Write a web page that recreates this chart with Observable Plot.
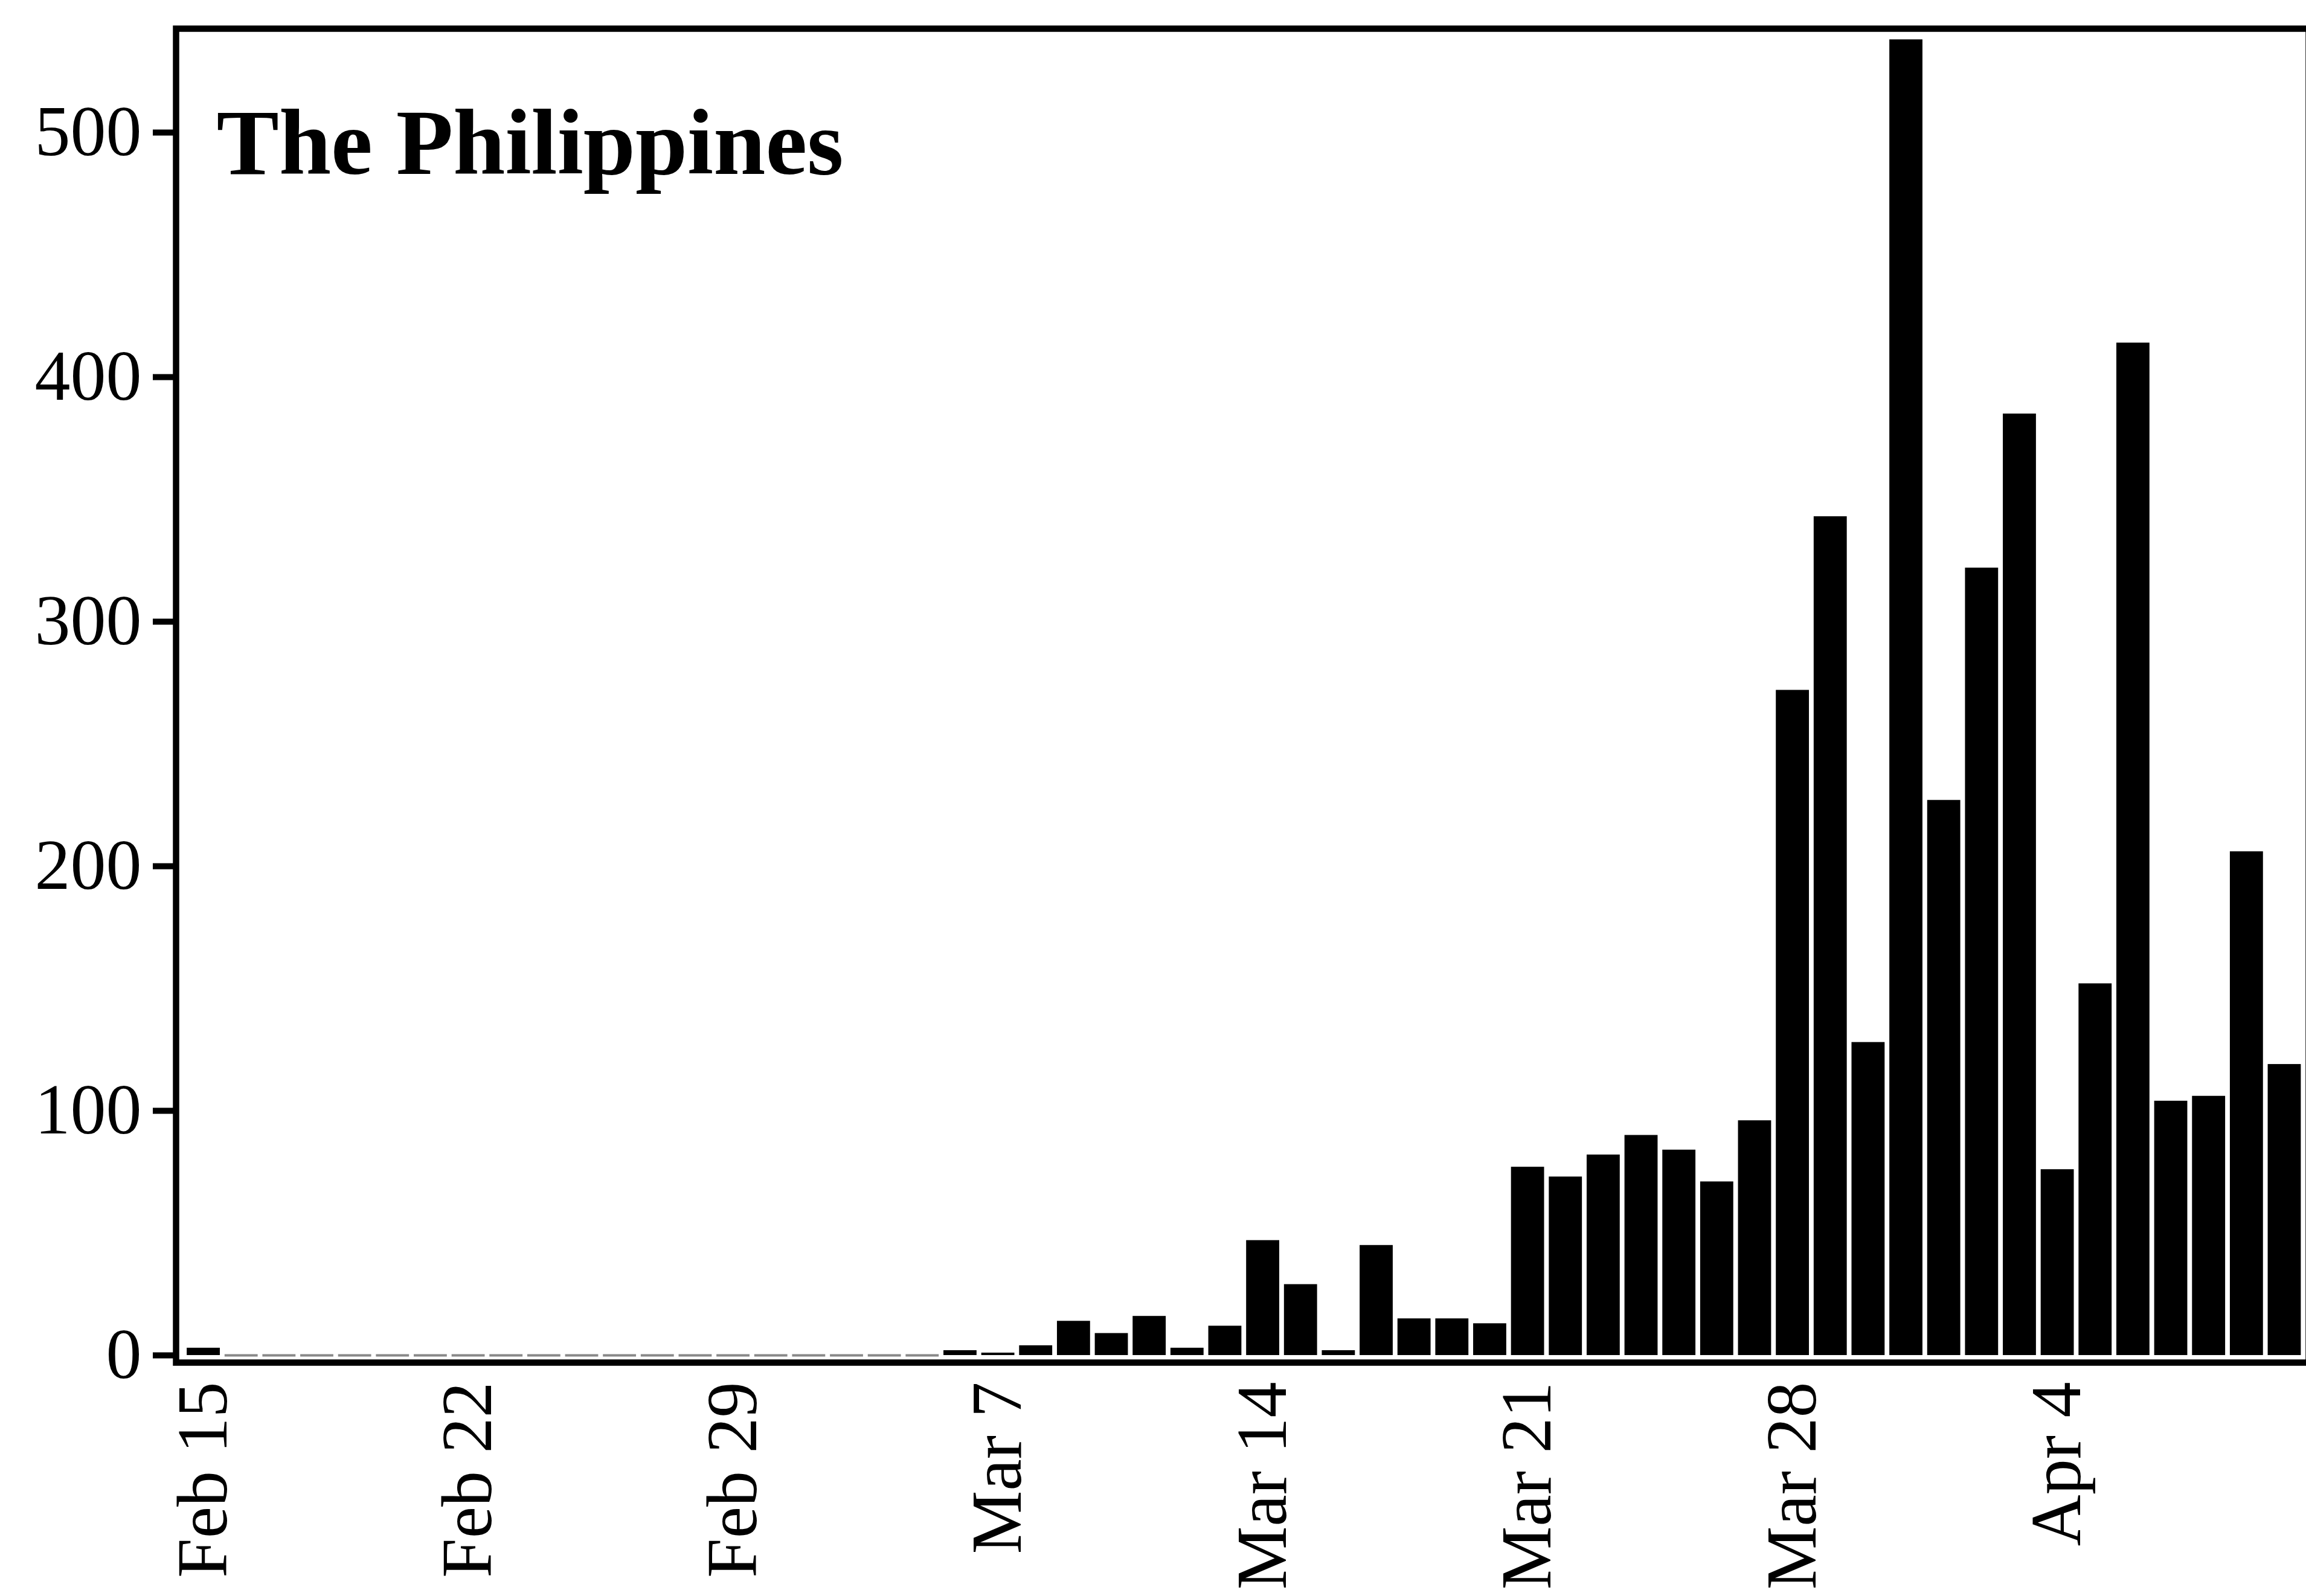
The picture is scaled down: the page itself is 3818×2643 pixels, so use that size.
<!DOCTYPE html>
<html><head><meta charset="utf-8">
<script src="https://cdn.jsdelivr.net/npm/d3@7"></script>
<script src="https://cdn.jsdelivr.net/npm/@observablehq/plot@0.6"></script>
<style>html,body{margin:0;padding:0;background:#fff;overflow:hidden}</style>
</head><body><div id="chart"></div>
<script>
const title = "The Philippines";
const dates = [
  "Feb 15","Feb 16","Feb 17","Feb 18","Feb 19","Feb 20","Feb 21","Feb 22","Feb 23","Feb 24","Feb 25","Feb 26","Feb 27","Feb 28","Feb 29",
  "Mar 1","Mar 2","Mar 3","Mar 4","Mar 5","Mar 6","Mar 7","Mar 8","Mar 9","Mar 10","Mar 11","Mar 12","Mar 13","Mar 14","Mar 15",
  "Mar 16","Mar 17","Mar 18","Mar 19","Mar 20","Mar 21","Mar 22","Mar 23","Mar 24","Mar 25","Mar 26","Mar 27","Mar 28","Mar 29",
  "Mar 30","Mar 31","Apr 1","Apr 2","Apr 3","Apr 4","Apr 5","Apr 6","Apr 7","Apr 8","Apr 9","Apr 10"
];
const cases = [
  3,0,0,0,0,0,0,0,0,0,0,0,0,0,0,
  0,0,0,0,0,2,1,4,14,9,16,3,12,47,29,
  2,45,15,15,13,77,73,82,90,84,71,96,272,343,
  128,538,227,322,385,76,152,414,104,106,206,119
];
const tickLabels = ["Feb 15","Feb 22","Feb 29","Mar 7","Mar 14","Mar 21","Mar 28","Apr 4"];
const yTicks = [0,100,200,300,400,500];

const table = dates.map((d, i) => ({date: d, value: cases[i]}));
const nonZero = table.filter(d => d.value > 0);
const zeros = table.filter(d => d.value === 0);

const chart = Plot.plot({
  width: 3818,
  height: 2643,
  marginLeft: 291,
  marginRight: -4,
  marginTop: 47,
  marginBottom: 387,
  style: {fontFamily: "'Liberation Serif', 'DejaVu Serif', serif", color: "black", background: "white"},
  x: {type: "band", domain: dates, paddingInner: 0.125, paddingOuter: 0.2455, align: 0.59},
  y: {domain: [-2.96, 542.5]},
  marks: [
    Plot.barY(nonZero, {x: "date", y: "value", fill: "black"}),
    Plot.tickY(zeros, {x: "date", y: "value", stroke: "#888888", strokeWidth: 4}),
    Plot.frame({stroke: "black", strokeWidth: 10.5}),
    Plot.axisY({ticks: yTicks, tickSize: 38, tickPadding: 19, strokeWidth: 10, fontSize: 118, label: null}),
    Plot.axisX({ticks: tickLabels, tickSize: 0, tickPadding: 32, tickRotate: -90, fontSize: 118, label: null}),
    Plot.text([title], {frameAnchor: "top-left", textAnchor: "start", lineAnchor: "bottom", dx: 67, dy: 240, fontSize: 155, fontWeight: "bold", fill: "black"})
  ]
});
document.getElementById("chart").appendChild(chart);
</script>
</body></html>
